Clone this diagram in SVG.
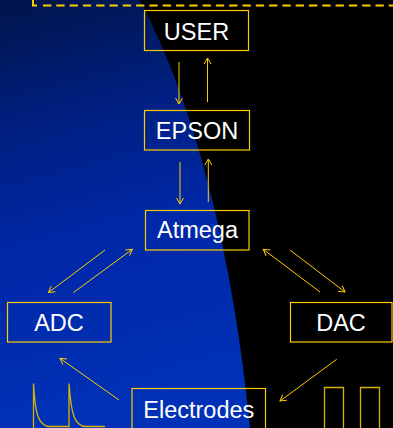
<svg xmlns="http://www.w3.org/2000/svg" width="393" height="428" viewBox="0 0 393 428">
<defs>
<linearGradient id="bg" x1="0" y1="0" x2="0.15" y2="1">
<stop offset="0" stop-color="#00154a"/>
<stop offset="0.3" stop-color="#001f80"/>
<stop offset="0.6" stop-color="#0028a8"/>
<stop offset="1" stop-color="#0031b6"/>
</linearGradient>
<marker id="ah" markerUnits="userSpaceOnUse" markerWidth="12" markerHeight="12" viewBox="-8 -6 10 12" refX="0" refY="0" orient="auto" overflow="visible">
<path d="M-6,-3.5 L0,0 L-6,3.5" fill="none" stroke="#FFCC00" stroke-width="1"/>
</marker>
</defs>
<style>
.box rect{fill:none;stroke:#FFCC00;stroke-width:1.2}
.box text{fill:#ffffff;font-family:"Liberation Sans",Arial,sans-serif;font-size:23.5px;text-anchor:middle}
.conn line{stroke:#FFCC00;stroke-width:1;marker-end:url(#ah)}
.wave{fill:none;stroke:#D8B400;stroke-width:1.3}
</style>
<rect x="0" y="0" width="393" height="428" fill="#000000"/>
<path d="M0,0 H140 Q223,160 250,428 H0 Z" fill="url(#bg)"/>
<path d="M33,0 V5.5 H37" fill="none" stroke="#FFCC00" stroke-width="2"/>
<path d="M43,5.5 H393" fill="none" stroke="#FFCC00" stroke-width="2" stroke-dasharray="8.3 5"/>
<g id="user" class="box"><rect x="144.5" y="10.5" width="104" height="40"/><text x="196.5" y="40">USER</text></g>
<g id="epson" class="box"><rect x="144.5" y="110.5" width="105" height="39.5"/><text x="197" y="139">EPSON</text></g>
<g id="atmega" class="box"><rect x="145.5" y="210.5" width="103.5" height="39.5"/><text x="197.5" y="238">Atmega</text></g>
<g id="adc" class="box"><rect x="7.5" y="302.5" width="103.5" height="39.5"/><text x="59" y="330.5">ADC</text></g>
<g id="dac" class="box"><rect x="290.5" y="302.5" width="101.5" height="39.5"/><text x="341" y="330.5">DAC</text></g>
<g id="electrodes" class="box"><rect x="132" y="388.5" width="133.5" height="50"/><text x="198.8" y="418">Electrodes</text></g>
<g id="connectors" class="conn">
<line x1="179" y1="62" x2="179" y2="104"/>
<line x1="207.5" y1="102" x2="207.5" y2="58"/>
<line x1="180" y1="162" x2="180" y2="204"/>
<line x1="208.3" y1="202" x2="208.3" y2="159"/>
<line x1="105" y1="250" x2="48.5" y2="292.5"/>
<line x1="73.5" y1="292.5" x2="132.3" y2="249.3"/>
<line x1="320" y1="292" x2="263.3" y2="249.3"/>
<line x1="290" y1="250" x2="345" y2="292"/>
<line x1="119" y1="400" x2="60" y2="358.3"/>
<line x1="336.7" y1="359.3" x2="280" y2="401"/>
</g>
<path class="wave" d="M33.5,430 V383.5 C35,412 38,426.5 50,426.5 H69 V383.5 C71,412 74,426.5 86,426.5 H105"/>
<path class="wave" d="M324.5,430 V387.5 H343.5 V430 M360.5,430 V387.5 H379.5 V430"/>
</svg>
